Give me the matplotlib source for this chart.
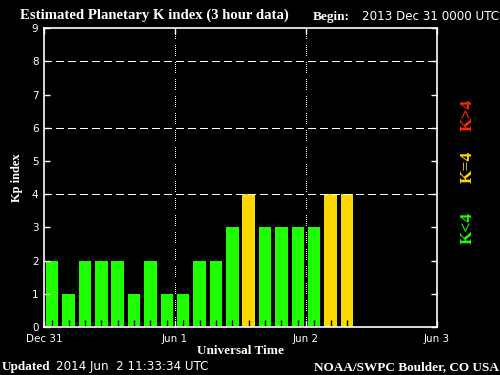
import matplotlib
matplotlib.use("Agg")
import matplotlib.pyplot as plt

# Kp values, one per 3-hour bin starting 2013 Dec 31 0000 UTC
kp_values = [2, 1, 2, 2, 2, 1, 2, 1, 1, 2, 2, 3, 4, 3, 3, 3, 3, 4, 4]
bin_hours = 3
day_ticks = [0, 24, 48, 72]
day_labels = ["Dec 31", "Jun 1", "Jun 2", "Jun 3"]
grid_levels = [4, 6, 8]

GREEN = "#1eff00"
YELLOW = "#ffd700"
RED = "#ff2a00"
SERIF = "Liberation Serif"
SANS = "DejaVu Sans"


def bar_color(k):
    if k < 4:
        return GREEN
    elif k == 4:
        return YELLOW
    return RED


fig = plt.figure(figsize=(5, 3.75), dpi=100, facecolor="black")
ax = fig.add_axes([0.088, 0.128, 0.786, 0.797], facecolor="black")

centers = [bin_hours * i + bin_hours / 2 for i in range(len(kp_values))]
ax.bar(centers, kp_values, width=2.3, color=[bar_color(k) for k in kp_values],
       linewidth=0, zorder=1)

ax.set_xlim(0, 72)
ax.set_ylim(0, 9)

# dotted grid, groups of dots like the original gif
hdots = (0, (1, 1) * 7 + (1, 5))
vdots = (0, (1, 2) * 5 + (1, 6))
for lev in grid_levels:
    ax.axhline(lev, color="white", lw=0.72, ls=hdots, antialiased=False,
               zorder=2)
for d in day_ticks[1:-1]:
    ax.axvline(d, color="white", lw=0.72, ls=vdots, antialiased=False,
               zorder=2)

for s in ax.spines.values():
    s.set_color("white")
    s.set_linewidth(1.2)

ax.set_yticks(range(10))
ax.set_yticklabels([str(i) for i in range(10)])
ax.tick_params(axis="y", direction="in", length=4, width=1, colors="white",
               right=True, labelsize=7.5, pad=4)
ax.set_xticks(day_ticks)
ax.set_xticklabels(day_labels)
ax.tick_params(axis="x", direction="in", length=4, width=1, colors="white",
               top=True, labelsize=7.5, pad=5)
ax.set_xticks([bin_hours * i + bin_hours / 2 for i in range(24)], minor=True)
ax.tick_params(axis="x", which="minor", direction="in", length=5, width=1,
               colors="black")
for lab in ax.get_xticklabels() + ax.get_yticklabels():
    lab.set_family(SANS)

ax.set_ylabel("Kp index", color="white", family=SERIF, fontweight="bold",
              fontsize=9, labelpad=6)
ax.set_xlabel("Universal Time", color="white", family=SERIF,
              fontweight="bold", fontsize=9.5, labelpad=1)

# header
fig.text(0.04, 0.958, "Estimated Planetary K index (3 hour data)", color="white",
         family=SERIF, fontweight="bold", fontsize=10.6, va="center")
fig.text(0.626, 0.955, "Begin:", color="white", family=SERIF,
         fontweight="bold", fontsize=9.5, va="center")
fig.text(0.724, 0.955, "2013 Dec 31 0000 UTC", color="white", family=SANS,
         fontsize=8.6, va="center")

# footer
fig.text(0.004, 0.022, "Updated", color="white", family=SERIF,
         fontweight="bold", fontsize=9.5, va="center")
fig.text(0.112, 0.022, "2014 Jun  2 11:33:34 UTC", color="white", family=SANS,
         fontsize=8.6, va="center")
fig.text(0.998, 0.022, "NOAA/SWPC Boulder, CO USA", color="white", family=SERIF,
         fontweight="bold", fontsize=9.5, va="center", ha="right")

# legend on the right
fig.text(0.936, 1 - 228 / 375, "K<4", color=GREEN, family=SERIF,
         fontweight="bold", fontsize=12.5, rotation=90, ha="center", va="center")
fig.text(0.936, 1 - 167 / 375, "K=4", color=YELLOW, family=SERIF,
         fontweight="bold", fontsize=12.5, rotation=90, ha="center", va="center")
fig.text(0.936, 1 - 115 / 375, "K>4", color=RED, family=SERIF,
         fontweight="bold", fontsize=12.5, rotation=90, ha="center", va="center")

fig.savefig("out.png", dpi=100, facecolor="black")
